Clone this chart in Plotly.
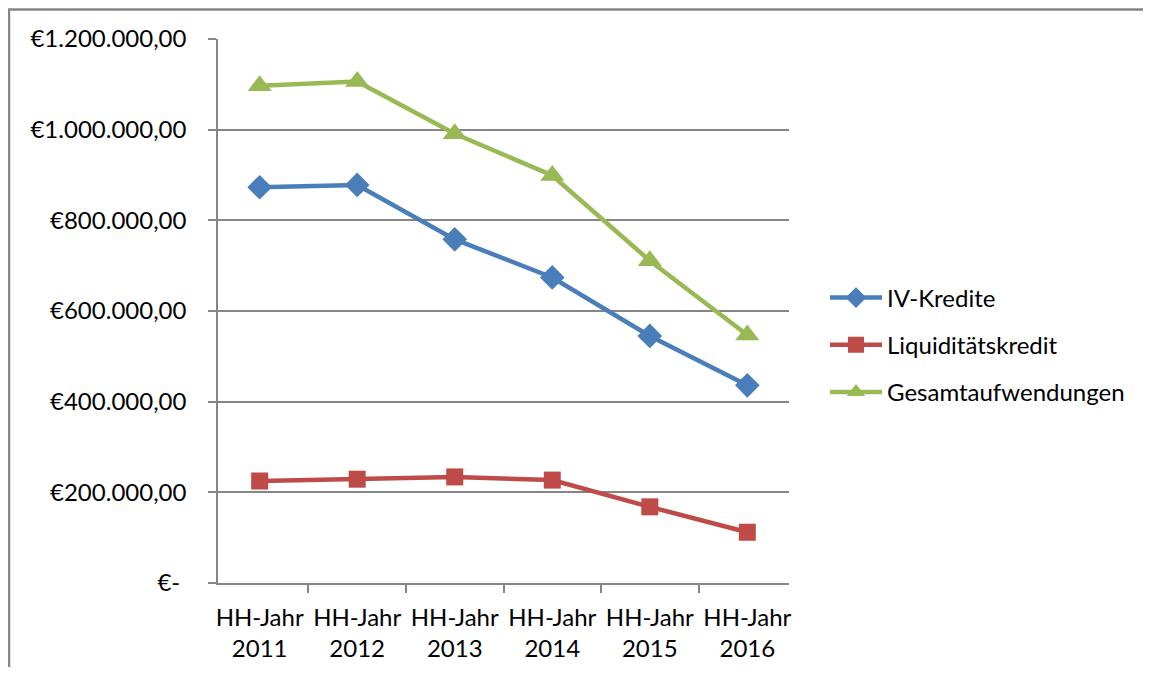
import plotly.graph_objects as go

categories = ["HH-Jahr<br>2011", "HH-Jahr<br>2012", "HH-Jahr<br>2013",
              "HH-Jahr<br>2014", "HH-Jahr<br>2015", "HH-Jahr<br>2016"]
iv_kredite = [873000, 878000, 758000, 674000, 545000, 436000]
liquiditaet = [225000, 229000, 234000, 227000, 168000, 112000]
gesamt = [1097000, 1106000, 991000, 899000, 711000, 547000]

y_tickvals = [0, 200000, 400000, 600000, 800000, 1000000, 1200000]
y_ticktext = ["€-\u00a0", "€200.000,00", "€400.000,00", "€600.000,00",
              "€800.000,00", "€1.000.000,00", "€1.200.000,00"]

FONT = "Lato, 'Open Sans', sans-serif"
GRAY = "#868686"
FS = 24

# page has an 8px body margin on every side; figure sized to fit the window
W, H = 1135, 659
L, R, T, B = 210, 354, 31, 84
PW, PH = W - L - R, H - T - B

fig = go.Figure()
fig.add_trace(go.Scatter(x=categories, y=iv_kredite, name="IV-Kredite",
                         mode="lines+markers", legendgroup="a",
                         line=dict(color="#4A7EBB", width=4.5),
                         marker=dict(symbol="diamond", size=19, color="#4A7EBB")))
fig.add_trace(go.Scatter(x=categories, y=liquiditaet, name="Liquiditätskredit",
                         mode="lines+markers", legendgroup="b",
                         line=dict(color="#BE4B48", width=4.5),
                         marker=dict(symbol="square", size=17, color="#BE4B48")))
fig.add_trace(go.Scatter(x=categories, y=gesamt, name="Gesamtaufwendungen",
                         mode="lines+markers", legendgroup="c",
                         line=dict(color="#98B954", width=4.5),
                         marker=dict(symbol="triangle-up", size=21, color="#98B954")))

fig.update_layout(
    width=W, height=H,
    margin=dict(l=L, r=R, t=T, b=B, autoexpand=False),
    paper_bgcolor="white", plot_bgcolor="white",
    font=dict(family=FONT, size=FS, color="black"),
    legend=dict(x=(822 - 5 - L) / PW, xanchor="left",
                y=(H - B - 337) / PH, yanchor="middle",
                traceorder="grouped", tracegroupgap=13,
                font=dict(family=FONT, size=FS),
                itemwidth=52, bgcolor="rgba(0,0,0,0)"),
    xaxis=dict(type="category", showgrid=False, showline=True, linecolor=GRAY,
               linewidth=1.5, ticks="outside", tickson="boundaries", ticklen=8,
               tickcolor=GRAY, tickwidth=1.5, tickangle=0, ticklabelstandoff=12,
               tickfont=dict(family=FONT, size=FS), fixedrange=True),
    yaxis=dict(range=[0, 1200000], tickvals=y_tickvals, ticktext=y_ticktext,
               showgrid=True, gridcolor=GRAY, gridwidth=1.5, zeroline=False,
               showline=True, linecolor=GRAY, linewidth=1.5,
               ticks="outside", ticklen=8, tickcolor=GRAY, tickwidth=1.5,
               tickfont=dict(family=FONT, size=FS), ticklabelstandoff=17),
    shapes=[
        dict(type="line", xref="paper", yref="paper",
             x0=(0 - L) / PW, x1=(W + 20 - L) / PW,
             y0=(H - B - 1.5) / PH, y1=(H - B - 1.5) / PH,
             line=dict(color=GRAY, width=2.5)),
        dict(type="line", xref="paper", yref="paper",
             x0=(1 - L) / PW, x1=(1 - L) / PW,
             y0=(-B - 20) / PH, y1=(H - B - 1.5) / PH,
             line=dict(color=GRAY, width=2.5)),
    ],
)

fig.write_html("out.html", config={"displayModeBar": False})
